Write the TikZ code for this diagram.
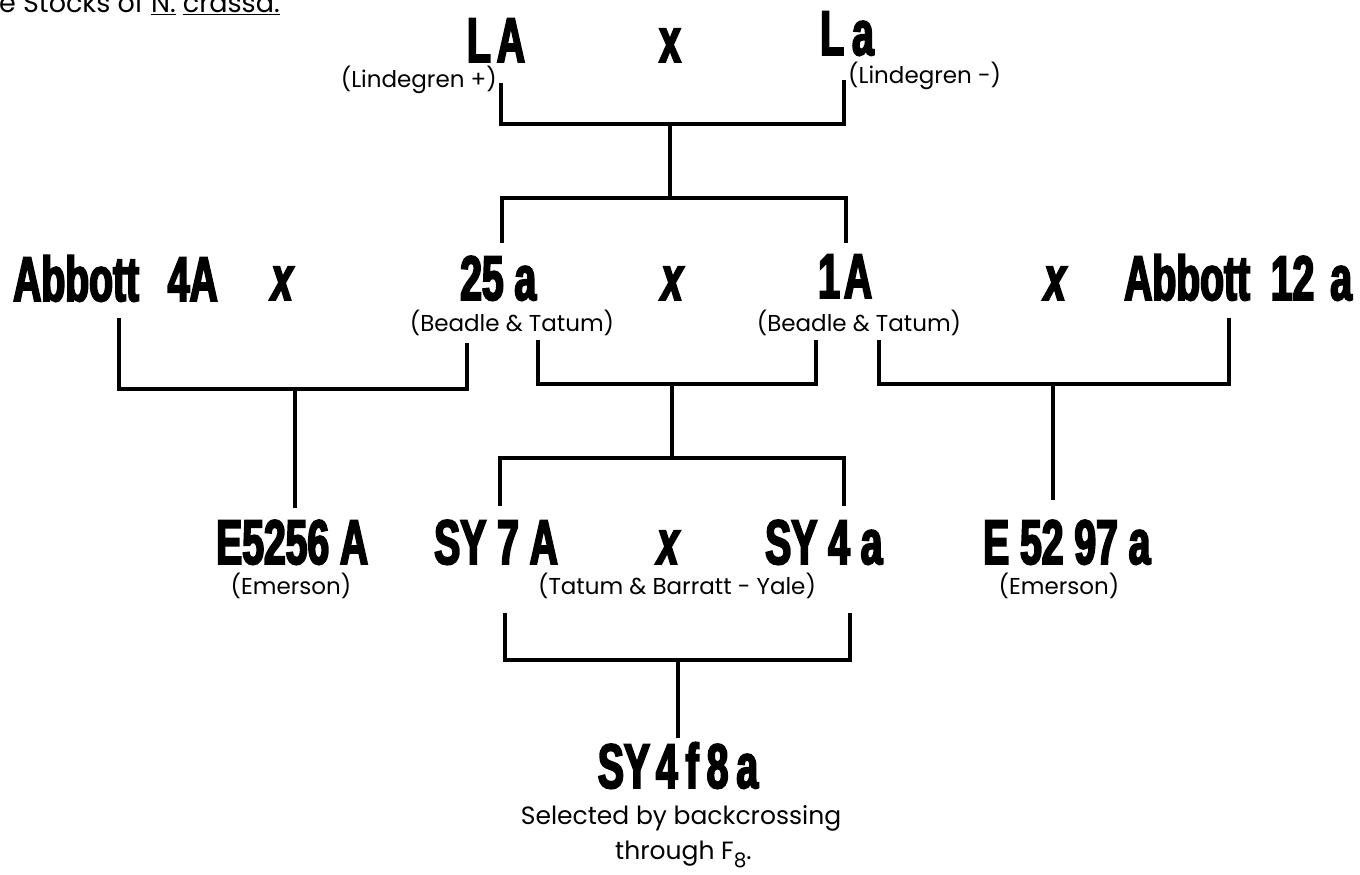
\documentclass[tikz,border=0pt]{standalone}
\usepackage{fontspec}
\setmainfont{Poppins}
\newfontfamily\cond{Liberation Sans}[FakeStretch=0.62, BoldFeatures={FakeBold=3}, BoldItalicFeatures={FakeBold=3}]
\tikzset{
  big/.style={font=\cond\bfseries\fontsize{63}{63}\selectfont, inner sep=0pt},
  crossup/.style={font=\cond\bfseries\fontsize{63}{63}\selectfont, inner sep=0pt, anchor=base},
  cross/.style={font=\cond\bfseries\itshape\fontsize{63}{63}\selectfont, inner sep=0pt, anchor=base},
  small/.style={font=\fontsize{23}{23}\selectfont, inner sep=0pt},
  note/.style={font=\fontsize{25}{25}\selectfont, inner sep=0pt, anchor=base},
  link/.style={line width=3.5pt, line join=miter, line cap=butt}
}
\begin{document}
\begin{tikzpicture}[x=1pt,y=-1pt]
\clip (0,0) rectangle (1360,875);
\fill[white] (0,0) rectangle (1360,875);

% title fragment (cut at the top)
\node[font=\fontsize{27}{27}\selectfont, inner sep=0pt, anchor=base west] (title) at (-1,13)
  {e Stocks of \underline{N.}\ \underline{crassa.}};

% ---- generation 0
\node[big, anchor=base] (LA) at (496,62) {L\kern6pt A};
\node[crossup] (x0) at (670,62) {x};
\node[big, anchor=base west] (La) at (820,55) {L\kern8pt a};
\node[small, anchor=base east] (linp) at (497,88) {(Lindegren +)};
\node[small, anchor=base west] (linm) at (848,84) {(Lindegren -)};

% ---- generation 1
\node[big, anchor=base west] (ab4) at (13,301) {Abbott\hspace{18pt} 4A};
\node[cross] (x1) at (282,300) {x};
\node[big, anchor=base west] (s25) at (460,300) {25 a};
\node[cross] (x2) at (672,300) {x};
\node[big, anchor=base west] (s1) at (818,298) {1\kern4pt A};
\node[cross] (x3) at (1055,300) {x};
\node[big, anchor=base west] (ab12) at (1124,300) {Abbott\hspace{10pt} 12\kern16pt a};
\node[small, anchor=base] (bt1) at (512,331) {(Beadle \& Tatum)};
\node[small, anchor=base] (bt2) at (859,331) {(Beadle \& Tatum)};

% ---- generation 2
\node[big, anchor=base west] (e56) at (216,564) {E5256 A};
\node[big, anchor=base west] (sy7) at (434,564) {SY 7 A};
\node[cross] (x4) at (668,564) {x};
\node[big, anchor=base west] (sy4) at (765,564) {SY 4 a};
\node[big, anchor=base west] (e97) at (983,564) {E 52 97 a};
\node[small, anchor=base] (em1) at (291,594) {(Emerson)};
\node[small, anchor=base] (ty) at (677,594) {(Tatum \& Barratt - Yale)};
\node[small, anchor=base] (em2) at (1059,594) {(Emerson)};

% ---- generation 3
\node[big, anchor=base] (sy48) at (678,788) {SY\kern6pt4\kern8pt f\kern8pt 8\kern8pt a};
\node[note] (sel) at (681,824) {Selected by backcrossing};
\node[note, anchor=base west] (thr) at (615,859)
  {through F\raisebox{-8pt}{\fontsize{20}{20}\selectfont 8}.};

% ---- bracket coordinates
\coordinate (b1L) at (501,83);  \coordinate (b1R) at (844,80);
\coordinate (b1H) at (670,124); \coordinate (b1S) at (670,198);
\coordinate (b2L) at (502,243); \coordinate (b2R) at (846,243);

\coordinate (b3L) at (119,318); \coordinate (b3R) at (467,343);
\coordinate (b3H) at (295,389); \coordinate (b3S) at (295,508);
\coordinate (b4L) at (538,340); \coordinate (b4R) at (816,340);
\coordinate (b4H) at (672,384); \coordinate (b4S) at (672,458);
\coordinate (b5L) at (879,340); \coordinate (b5R) at (1229,318);
\coordinate (b5H) at (1053,384); \coordinate (b5S) at (1053,500);
\coordinate (b6L) at (500,506); \coordinate (b6R) at (844,506);

\coordinate (b7L) at (505,613); \coordinate (b7R) at (850,613);
\coordinate (b7H) at (678,660); \coordinate (b7S) at (678,738);

% ---- brackets
\draw[link] (b1L) |- (b1H) -| (b1R);
\draw[link] (b1H) -- (b1S);
\draw[link] (b2L) |- (b1S) -| (b2R);

\draw[link] (b3L) |- (b3H) -| (b3R);
\draw[link] (b3H) -- (b3S);
\draw[link] (b4L) |- (b4H) -| (b4R);
\draw[link] (b4H) -- (b4S);
\draw[link] (b5L) |- (b5H) -| (b5R);
\draw[link] (b5H) -- (b5S);
\draw[link] (b6L) |- (b4S) -| (b6R);

\draw[link] (b7L) |- (b7H) -| (b7R);
\draw[link] (b7H) -- (b7S);
\end{tikzpicture}
\end{document}
